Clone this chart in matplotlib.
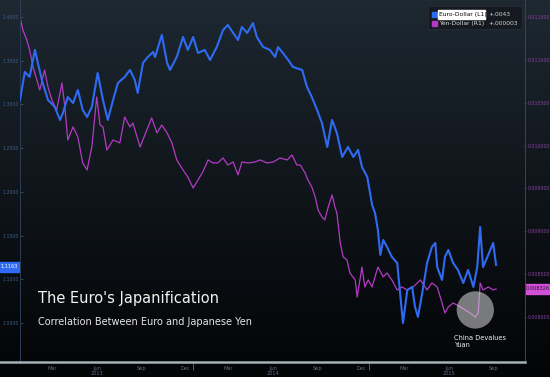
import numpy as np
import pandas as pd
import matplotlib
matplotlib.use("Agg")
import matplotlib.pyplot as plt
from matplotlib.lines import Line2D
from matplotlib.patches import Rectangle

# Euro-Dollar (left axis)
eur_dates = ["2013-01-07", "2013-01-17", "2013-01-27", "2013-02-07", "2013-02-13", "2013-02-23",
	"2013-03-06", "2013-03-20", "2013-03-31", "2013-04-06", "2013-04-16", "2013-04-27",
	"2013-05-07", "2013-05-17", "2013-05-26", "2013-06-05", "2013-06-17", "2013-06-28",
	"2013-07-08", "2013-07-19", "2013-07-29", "2013-08-12", "2013-08-23", "2013-09-02",
	"2013-09-08", "2013-09-19", "2013-09-29", "2013-10-10", "2013-10-14", "2013-10-28",
	"2013-11-08", "2013-11-14", "2013-11-28", "2013-12-11", "2013-12-21", "2014-01-01",
	"2014-01-11", "2014-01-25", "2014-02-05", "2014-02-19", "2014-03-04", "2014-03-14",
	"2014-03-25", "2014-04-04", "2014-04-12", "2014-04-23", "2014-05-05", "2014-05-13",
	"2014-05-26", "2014-06-09", "2014-06-20", "2014-06-26", "2014-07-06", "2014-07-17",
	"2014-07-27", "2014-08-15", "2014-08-25", "2014-09-04", "2014-09-15", "2014-09-25",
	"2014-10-06", "2014-10-16", "2014-10-26", "2014-11-06", "2014-11-18", "2014-11-29",
	"2014-12-09", "2014-12-17", "2014-12-28", "2015-01-07", "2015-01-13", "2015-01-19",
	"2015-01-24", "2015-01-30", "2015-02-07", "2015-02-17", "2015-02-28", "2015-03-06",
	"2015-03-12", "2015-03-21", "2015-03-31", "2015-04-06", "2015-04-12", "2015-04-21",
	"2015-05-01", "2015-05-11", "2015-05-18", "2015-05-22", "2015-06-01", "2015-06-07",
	"2015-06-14", "2015-06-24", "2015-07-04", "2015-07-15", "2015-07-25", "2015-08-05",
	"2015-08-13", "2015-08-19", "2015-08-25", "2015-09-03", "2015-09-15", "2015-09-21"]
eur_values = [1.3051, 1.3371, 1.3314, 1.3623, 1.3474, 1.3245,
	1.3051, 1.2971, 1.2822, 1.2902, 1.3085, 1.3016,
	1.3165, 1.2936, 1.2856, 1.2971, 1.3359, 1.3051,
	1.2822, 1.3051, 1.3245, 1.3314, 1.3394, 1.3279,
	1.3131, 1.3474, 1.3542, 1.3600, 1.3542, 1.3794,
	1.3474, 1.3394, 1.3542, 1.3771, 1.3623, 1.3771,
	1.3588, 1.3623, 1.3508, 1.3657, 1.3851, 1.3908,
	1.3817, 1.3737, 1.3886, 1.3817, 1.3931, 1.3771,
	1.3657, 1.3623, 1.3542, 1.3657, 1.3588, 1.3508,
	1.3428, 1.3394, 1.3199, 1.3085, 1.2936, 1.2788,
	1.2513, 1.2822, 1.2673, 1.2399, 1.2513, 1.2399,
	1.2479, 1.2284, 1.2170, 1.1850, 1.1758, 1.1564,
	1.1278, 1.1449, 1.1369, 1.1255, 1.1186, 1.0843,
	1.0500, 1.0877, 1.0912, 1.0683, 1.0569, 1.0843,
	1.1186, 1.1369, 1.1415, 1.1140, 1.0992, 1.1255,
	1.1335, 1.1186, 1.1106, 1.0957, 1.1106, 1.0912,
	1.1140, 1.1598, 1.1140, 1.1255, 1.1415, 1.1163]

# Yen-Dollar (right axis)
jpy_dates = ["2013-01-07", "2013-01-13", "2013-01-21", "2013-01-27", "2013-02-03", "2013-02-11",
	"2013-02-17", "2013-02-27", "2013-03-06", "2013-03-14", "2013-03-24", "2013-04-04",
	"2013-04-10", "2013-04-16", "2013-04-27", "2013-05-07", "2013-05-17", "2013-05-26",
	"2013-06-05", "2013-06-15", "2013-06-22", "2013-06-28", "2013-07-06", "2013-07-19",
	"2013-08-02", "2013-08-12", "2013-08-23", "2013-08-29", "2013-09-13", "2013-09-27",
	"2013-10-07", "2013-10-18", "2013-10-28", "2013-11-08", "2013-11-18", "2013-11-28",
	"2013-12-11", "2013-12-21", "2014-01-01", "2014-01-11", "2014-01-21", "2014-02-01",
	"2014-02-11", "2014-02-21", "2014-03-04", "2014-03-14", "2014-03-25", "2014-04-04",
	"2014-04-12", "2014-04-25", "2014-05-09", "2014-05-20", "2014-06-03", "2014-06-16",
	"2014-06-30", "2014-07-15", "2014-07-25", "2014-08-04", "2014-08-11", "2014-08-21",
	"2014-08-27", "2014-09-04", "2014-09-11", "2014-09-17", "2014-09-25", "2014-10-01",
	"2014-10-08", "2014-10-16", "2014-10-22", "2014-10-26", "2014-11-02", "2014-11-08",
	"2014-11-16", "2014-11-22", "2014-12-03", "2014-12-07", "2014-12-17", "2014-12-23",
	"2014-12-30", "2015-01-07", "2015-01-13", "2015-01-19", "2015-01-30", "2015-02-07",
	"2015-02-17", "2015-02-28", "2015-03-10", "2015-03-21", "2015-04-02", "2015-04-17",
	"2015-05-01", "2015-05-11", "2015-05-22", "2015-06-01", "2015-06-07", "2015-06-14",
	"2015-06-24", "2015-07-09", "2015-07-19", "2015-07-29", "2015-08-09", "2015-08-15",
	"2015-08-19", "2015-08-25", "2015-09-05", "2015-09-15", "2015-09-21"]
jpy_values = [0.011500, 0.011348, 0.011232, 0.011115, 0.010917, 0.010765,
	0.010648, 0.010882, 0.010683, 0.010532, 0.010415, 0.010730,
	0.010450, 0.010065, 0.010217, 0.010100, 0.009797, 0.009715,
	0.009983, 0.010567, 0.010240, 0.010217, 0.009948, 0.010065,
	0.010030, 0.010333, 0.010217, 0.010263, 0.009983, 0.010182,
	0.010322, 0.010147, 0.010240, 0.010147, 0.010030, 0.009832,
	0.009715, 0.009633, 0.009505, 0.009598, 0.009692, 0.009832,
	0.009797, 0.009797, 0.009855, 0.009773, 0.009808, 0.009657,
	0.009808, 0.009797, 0.009808, 0.009832, 0.009797, 0.009808,
	0.009855, 0.009832, 0.009890, 0.009773, 0.009773, 0.009680,
	0.009598, 0.009517, 0.009400, 0.009248, 0.009167, 0.009132,
	0.009283, 0.009423, 0.009283, 0.009213, 0.008863, 0.008700,
	0.008665, 0.008513, 0.008432, 0.008233, 0.008583, 0.008350,
	0.008432, 0.008350, 0.008467, 0.008583, 0.008467, 0.008513,
	0.008432, 0.008315, 0.008350, 0.008315, 0.008350, 0.008432,
	0.008315, 0.008397, 0.008350, 0.008163, 0.008047, 0.008117,
	0.008163, 0.008117, 0.008082, 0.008047, 0.008000, 0.008047,
	0.008397, 0.008315, 0.008350, 0.008315, 0.008326]

month_ticks = ["2013-03-15", "2013-06-15", "2013-09-15", "2013-12-15",
	"2014-03-15", "2014-06-15", "2014-09-15", "2014-12-15",
	"2015-03-15", "2015-06-15", "2015-09-15"]
month_labels = ["Mar", "Jun\n2013", "Sep", "Dec", "Mar", "Jun\n2014", "Sep", "Dec",
	"Mar", "Jun\n2015", "Sep"]
year_marks = ["2014-01-01", "2015-01-01"]
eur_ticks = [1.05, 1.10, 1.15, 1.20, 1.25, 1.30, 1.35, 1.40]
jpy_ticks = [0.0080, 0.0085, 0.0090, 0.0095, 0.0100, 0.0105, 0.0110, 0.0115]

devalue_date = "2015-08-09"
devalue_level = 0.008082

BLUE = "#2f6bf2"
PURPLE = "#b43ac4"

W, H = 550, 377
fig = plt.figure(figsize=(W / 100, H / 100), dpi=100)

# dark gradient background
bg = fig.add_axes([0, 0, 1, 1], zorder=-5)
grad = np.linspace(0, 1, 256).reshape(-1, 1)
top = np.array([0x1e, 0x29, 0x32]) / 255
bot = np.array([0x03, 0x04, 0x06]) / 255
img = top + (bot - top) * grad[..., None] ** 0.9
bg.imshow(img, aspect="auto", extent=[0, 1, 0, 1])
bg.axis("off")

ax = fig.add_axes([20 / W, 14 / H, 505 / W, 363 / H])
ax.set_facecolor("none")
ax2 = ax.twinx()

ed = pd.to_datetime(eur_dates)
jd = pd.to_datetime(jpy_dates)

ax2.plot(jd, jpy_values, color=PURPLE, lw=0.9, zorder=2)
ax.plot(ed, eur_values, color=BLUE, lw=1.5, zorder=3)
ax.set_zorder(ax2.get_zorder() + 1)
ax.patch.set_visible(False)

ax.set_xlim(pd.Timestamp("2013-01-07"), pd.Timestamp("2015-11-20"))
ax.set_ylim(1.0042, 1.4194)
ax2.set_ylim(0.007463, 0.011698)

# x ticks
ax.set_xticks(pd.to_datetime(month_ticks))
ax.set_xticklabels(month_labels, fontsize=3.6, color="#5f6f80", linespacing=1.0)
ax.tick_params(axis="x", length=0, pad=2.5)
ax.set_xticks(pd.to_datetime(year_marks), minor=True)
ax.tick_params(axis="x", which="minor", length=5, width=0.6, color="#5f6f80", direction="out")

# y ticks
ax.set_yticks(eur_ticks)
ax.set_yticklabels(["%.4f" % v for v in eur_ticks], fontsize=3.4, color="#3f5d8c")
ax.tick_params(axis="y", length=2, width=0.5, color="#3f5d8c", pad=1, direction="in")
ax2.set_yticks(jpy_ticks)
ax2.set_yticklabels(["%.6f" % v for v in jpy_ticks], fontsize=3.4, color="#8a3fa0")
ax2.tick_params(axis="y", length=2, width=0.5, color="#8a3fa0", pad=1, direction="inout")

for a in (ax, ax2):
	a.spines["top"].set_visible(False)
	a.spines["bottom"].set_visible(False)
	a.spines["left"].set_color("#2c3c55")
	a.spines["left"].set_linewidth(0.7)
	a.spines["right"].set_color("#5c2c75")
	a.spines["right"].set_linewidth(0.7)

# bottom axis bar
fig.add_artist(Line2D([0, 525 / W], [15 / H, 15 / H], color="#a4b0b6", lw=1.8))

# last value tags
fig.add_artist(Rectangle((0, (H - 272) / H), 19 / W, 10 / H, color=BLUE))
fig.text(9.5 / W, (H - 267) / H, "1.1163", fontsize=3.6, color="white", ha="center", va="center")
fig.add_artist(Rectangle((526 / W, (H - 294) / H), 23 / W, 10 / H, color="#d24fd8"))
fig.text(537.5 / W, (H - 289) / H, "0.008326", fontsize=3.6, color="#2a0a30", ha="center", va="center")

# legend
fig.add_artist(Rectangle((428 / W, (H - 29) / H), 94 / W, 23 / H, facecolor="#141a1f",
	edgecolor="#2a3038", lw=0.5))
fig.add_artist(Rectangle((432 / W, (H - 17) / H), 5 / W, 5 / H, color=BLUE))
fig.add_artist(Rectangle((438 / W, (H - 19) / H), 47 / W, 9 / H, color="white"))
fig.text(439 / W, (H - 14.5) / H, "Euro-Dollar (L1)", fontsize=4.3, color="black", va="center")
fig.text(488 / W, (H - 14.5) / H, "+.0043", fontsize=4.3, color="#d0d4d8", va="center")
fig.add_artist(Rectangle((432 / W, (H - 26) / H), 5 / W, 5 / H, color=PURPLE))
fig.text(439 / W, (H - 23.5) / H, "Yen-Dollar (R1)", fontsize=4.3, color="#e0e0e0", va="center")
fig.text(488 / W, (H - 23.5) / H, "+.000003", fontsize=4.3, color="#d0d4d8", va="center")

# titles
fig.text(38 / W, (H - 299) / H, "The Euro's Japanification", fontsize=10.5,
	color="#f2f2f2", va="center")
fig.text(38 / W, (H - 322) / H, "Correlation Between Euro and Japanese Yen", fontsize=7,
	color="#e6e6e6", va="center")

# China devaluation marker
ax2.scatter([pd.Timestamp(devalue_date)], [devalue_level], s=720, color="#d8d8d8",
	alpha=0.55, edgecolors="none", zorder=5)
ax2.annotate("China Devalues\nYuan", xy=(pd.Timestamp(devalue_date), devalue_level),
	xytext=(-15, -18), textcoords="offset points", fontsize=4.8, color="#f0f0f0",
	ha="left", va="top", linespacing=1.3)

fig.savefig("out.png", dpi=100)
